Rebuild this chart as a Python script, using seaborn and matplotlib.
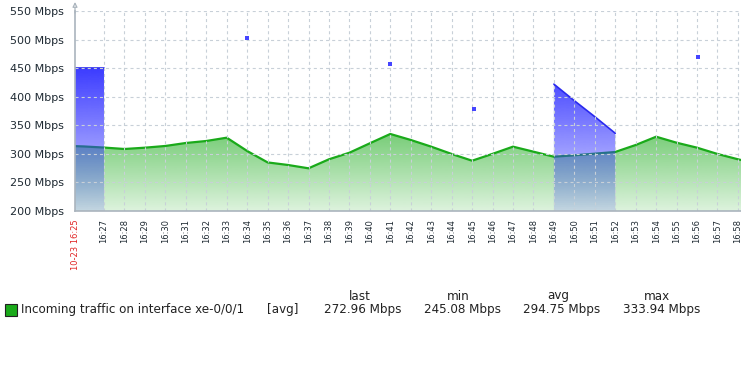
import numpy as np
import pandas as pd
import matplotlib
matplotlib.use('Agg')
import matplotlib.pyplot as plt
import seaborn as sns
from matplotlib.path import Path
from matplotlib.patches import Rectangle

# time axis in minutes after 16:00
green_t = [25.58, 26, 27, 28, 29, 30, 31, 32, 33, 34, 35, 36, 37, 38, 39, 40, 41, 42,
           43, 44, 45, 46, 47, 48, 49, 50, 51, 52, 53, 54, 55, 56, 57, 58, 59]
green_v = [313.5, 313, 311, 308.5, 310.8, 313.8, 319, 322.5, 328.3, 305, 285, 280.5, 274.7,
           290.5, 302, 318.5, 334.8, 324.3, 312.6, 299.8, 288, 300, 312.6, 303.8, 295,
           297.5, 300.3, 303.3, 315.5, 330, 319.5, 310.8, 299.8, 290.5, 282]

# second item, with gaps (run id groups consecutive points)
blue_t = [25.58, 26, 27, 34, 41, 45.07, 49, 50, 51, 52, 56.05]
blue_v = [450, 450, 450, 502, 457, 378, 422, 393, 365, 336, 470]
blue_run = [0, 0, 0, 1, 2, 3, 4, 4, 4, 4, 5]

y_ticks = [200, 250, 300, 350, 400, 450, 500, 550]
x_start = 25.58
x_end = 58.15
minute_ticks = list(range(27, 59))
start_label = '10-23 16:25'

legend_name = 'Incoming traffic on interface xe-0/0/1'
legend_func = '[avg]'
legend_heads = ['last', 'min', 'avg', 'max']
legend_vals = ['272.96 Mbps', '245.08 Mbps', '294.75 Mbps', '333.94 Mbps']

GREEN = '#1aaa1a'
BLUE = '#3535ff'
AXC = '#aab4bd'
GRIDC = '#c8d0d8'

sns.set_style('white')
plt.rcParams['font.family'] = ['DejaVu Sans']
plt.rcParams['lines.scale_dashes'] = False

green = pd.DataFrame({'t': green_t, 'v': green_v})
blue = pd.DataFrame({'t': blue_t, 'v': blue_v, 'run': blue_run})

fig = plt.figure(figsize=(7.41, 3.77), dpi=100)
ax = fig.add_axes([75 / 741, 1 - 211 / 377, 666 / 741, 200 / 377])


def gradient_fill(paths, rgb, z):
    path = Path.make_compound_path(*paths)
    v = np.linspace(200, 550, 256)
    a = np.clip(0.15 + 0.85 * (v - 200) / 260, 0, 1)
    img = np.zeros((256, 1, 4))
    img[:, 0, :3] = matplotlib.colors.to_rgb(rgb)
    img[:, 0, 3] = a
    im = ax.imshow(img, extent=[x_start, x_end + 2, 200, 550], origin='lower',
                   aspect='auto', interpolation='bilinear', zorder=z)
    im.set_clip_path(path, transform=ax.transData)


# green area + line
poly = ax.fill_between(green['t'], green['v'], 200, alpha=0)
gradient_fill(poly.get_paths(), GREEN, 1)
sns.lineplot(data=green, x='t', y='v', color=GREEN, lw=1.6, ax=ax, zorder=1.1)

# blue item: filled runs and lone points
paths = []
for r, g in blue.groupby('run'):
    if len(g) > 1:
        p = ax.fill_between(g['t'], g['v'], 200, alpha=0)
        paths += p.get_paths()
gradient_fill(paths, BLUE, 1.2)
runs = blue[blue.groupby('run')['t'].transform('count') > 1]
sns.lineplot(data=runs, x='t', y='v', units='run', estimator=None, color='#2a2aee',
             lw=1.2, ax=ax, zorder=1.3)
lone = blue[blue.groupby('run')['t'].transform('count') == 1]
sns.scatterplot(data=lone, x='t', y='v', marker='s', s=8, color='#4545ff',
                edgecolor='none', ax=ax, zorder=3)

ax.set_xlim(x_start, x_end)
ax.set_ylim(200, 550)

# grid
ax.set_axisbelow(False)
ax.xaxis.set_zorder(1.5)
ax.yaxis.set_zorder(1.5)
ax.grid(True, color=GRIDC, lw=0.8, linestyle=(0, (2.2, 2.2)))

ax.set_yticks(y_ticks)
ax.set_yticklabels([f'{v} Mbps' for v in y_ticks])
ax.set_xticks([x_start] + minute_ticks)
ax.set_xticklabels([start_label] + [f'16:{m:02d}' for m in minute_ticks], rotation=90)
ax.xaxis.get_gridlines()[0].set_visible(False)
ax.tick_params(axis='y', length=2, pad=6, labelsize=8, colors=AXC, labelcolor='#1f2a33')
ax.tick_params(axis='x', length=3, pad=3, labelsize=6, colors=AXC, labelcolor='#1f2a33')
ax.get_xticklabels()[0].set_color('#e02424')
ax.set_xlabel('')
ax.set_ylabel('')

for s in ['top', 'right']:
    ax.spines[s].set_visible(False)
for s in ['left', 'bottom']:
    ax.spines[s].set_color(AXC)
    ax.spines[s].set_linewidth(1.2)
ax.annotate('', xy=(0, 1.045), xycoords='axes fraction', xytext=(0, 0.99),
            arrowprops=dict(arrowstyle='-|>', fc='white', ec=AXC, lw=0.9,
                            mutation_scale=7, shrinkA=0, shrinkB=0))

# legend row
W, H = 741, 377
fig.patches.append(Rectangle((5 / W, 1 - 316 / H), 12 / W, 12 / H, transform=fig.transFigure,
                             fc=GREEN, ec='#222222', lw=0.8))
lf = dict(fontsize=9.5, color='#222222', fontstretch='condensed', va='center')
fig.text(21 / W, 1 - 310 / H, legend_name, ha='left', **lf)
fig.text(283 / W, 1 - 310 / H, legend_func, ha='center', **lf)
for hx, vx, h, v in zip([360, 458, 558, 657], [363, 462, 562, 662], legend_heads, legend_vals):
    fig.text(hx / W, 1 - 296 / H, h, ha='center', **lf)
    fig.text(vx / W, 1 - 310 / H, v, ha='center', **lf)

fig.savefig('out.png', dpi=100)
